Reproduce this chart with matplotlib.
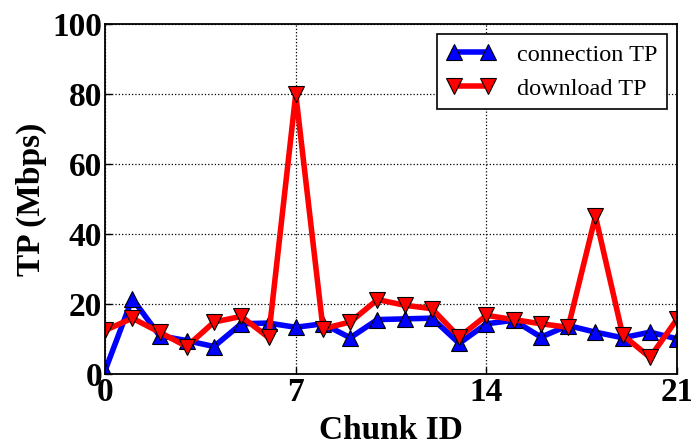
import matplotlib
matplotlib.use("Agg")
from matplotlib import pyplot as plt

# chunk ids and throughput values (Mbps)
CHUNK_IDS = list(range(22))
CONNECTION_TP = [1.0, 21.6, 11.0, 9.6, 7.9, 14.4, 14.6, 13.4, 14.4, 10.4, 15.6, 15.8,
                 16.0, 8.8, 14.4, 15.4, 10.6, 13.9, 12.0, 10.4, 12.0, 10.1]
DOWNLOAD_TP = [12.5, 16.0, 12.0, 7.9, 14.9, 16.5, 10.5, 80.0, 13.0, 14.9, 21.3, 19.7,
               18.7, 10.6, 16.8, 15.6, 14.4, 13.4, 45.1, 11.2, 4.8, 15.8]
X_TICKS = [0, 7, 14, 21]
Y_TICKS = [0, 20, 40, 60, 80, 100]

SERIF = ["Liberation Serif", "DejaVu Serif"]


def main():
    plt.rcParams["font.family"] = SERIF

    fig = plt.figure(figsize=(6.91, 4.46), dpi=100)
    ax = fig.add_axes([0.152, 0.161, 0.828, 0.785])

    ax.plot(CHUNK_IDS, CONNECTION_TP, color="blue", linewidth=4, marker="^",
            markersize=11, markerfacecolor="blue", markeredgecolor="black",
            markeredgewidth=0.8, label="connection TP")
    ax.plot(CHUNK_IDS, DOWNLOAD_TP, color="red", linewidth=4, marker="v",
            markersize=11, markerfacecolor="red", markeredgecolor="black",
            markeredgewidth=0.8, label="download TP")

    ax.set_xlim(0, 21)
    ax.set_ylim(0, 100)
    ax.set_xticks(X_TICKS)
    ax.set_yticks(Y_TICKS)
    ax.tick_params(direction="in", length=5, width=1, labelsize=24, pad=2)
    for lbl in ax.get_xticklabels() + ax.get_yticklabels():
        lbl.set_fontweight("bold")
    ax.grid(True, linestyle=":", color="black", linewidth=0.9)
    for sp in ax.spines.values():
        sp.set_linewidth(1.3)

    ax.set_xlabel("Chunk ID", fontsize=24, fontweight="bold", labelpad=5)
    ax.set_ylabel("TP (Mbps)", fontsize=24, fontweight="bold", labelpad=4)

    leg = ax.legend(loc="upper right", fontsize=17.5, fancybox=False, framealpha=1,
                    edgecolor="black", numpoints=2, handlelength=2.0,
                    handletextpad=0.9, borderpad=0.4, labelspacing=0.5,
                    borderaxespad=0.4)
    leg.get_frame().set_linewidth(1.2)

    fig.savefig("out.png", dpi=100)


if __name__ == "__main__":
    main()
